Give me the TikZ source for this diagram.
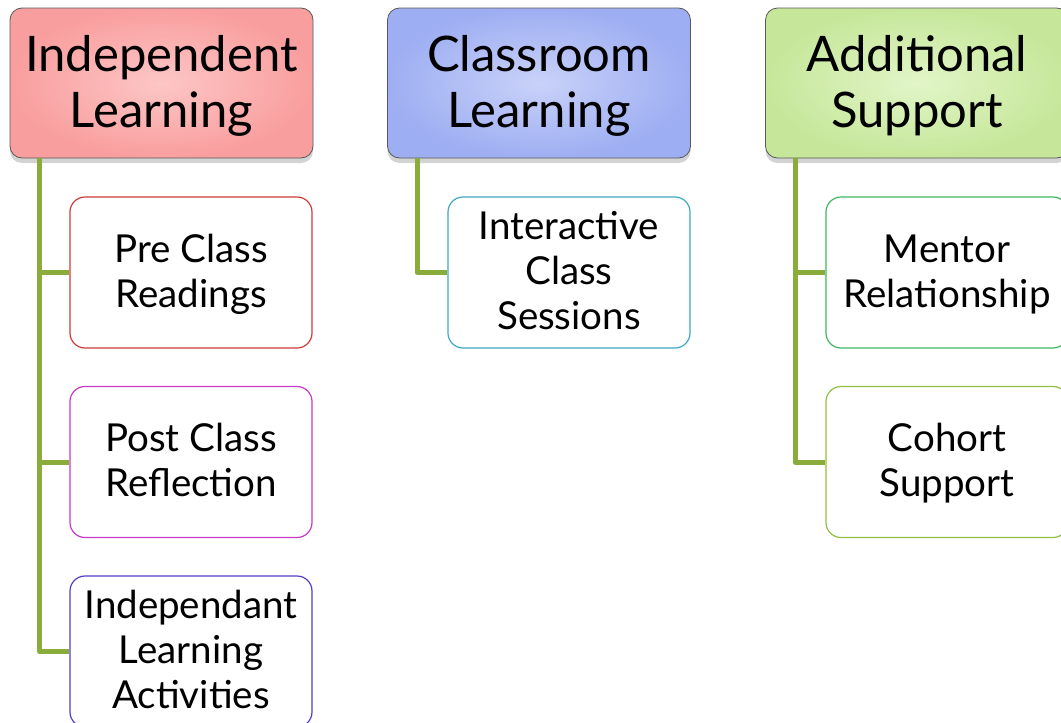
\documentclass[tikz,border=0pt]{standalone}
\usepackage{fontspec}
\setmainfont{Lato}
\usetikzlibrary{shadows}
\definecolor{trunk}{HTML}{8AAC3A}
\definecolor{redA}{HTML}{F99E9E}\definecolor{redB}{HTML}{FDC6C6}
\definecolor{bluA}{HTML}{9EAEF2}\definecolor{bluB}{HTML}{C9D2F9}
\definecolor{grnA}{HTML}{C6E79A}\definecolor{grnB}{HTML}{E2F5C8}
\definecolor{cRed}{HTML}{D03A3A}
\definecolor{cMag}{HTML}{C63CC6}
\definecolor{cPur}{HTML}{5040C8}
\definecolor{cCya}{HTML}{3EA8C2}
\definecolor{cGrn}{HTML}{3CB860}
\definecolor{cLim}{HTML}{92C042}
% centred lines, lowered a little inside the box while keeping its size
\newcommand{\boxtext}[2]{\raisebox{-#1}[\height][\depth]{\begin{tabular}{@{}c@{}}#2\end{tabular}}}
\tikzset{
  head/.style={rectangle, rounded corners=12pt, draw=black!65, line width=0.8pt,
    minimum width=303pt, minimum height=150pt, inner sep=0pt,
    font=\fontsize{49}{56}\selectfont, shading=radial,
    drop shadow={opacity=0.35, shadow xshift=0pt, shadow yshift=-5pt}},
  child/.style={rectangle, rounded corners=15pt, line width=1.2pt, fill=white,
    minimum width=242pt, minimum height=151pt, inner sep=0pt,
    font=\fontsize{38.5}{45}\selectfont},
  conn/.style={draw=trunk, line width=5pt, line join=round}
}
\begin{document}
\begin{tikzpicture}[x=1pt, y=-1pt]
\useasboundingbox (0,0) rectangle (1061,723);
% column headers
\node[head, inner color=redB, outer color=redA] (h1) at (161.5,83) {\boxtext{5pt}{Independent\\Learning}};
\node[head, inner color=bluB, outer color=bluA] (h2) at (539,83) {\boxtext{5pt}{Classroom\\Learning}};
\node[head, inner color=grnB, outer color=grnA] (h3) at (917,83) {\boxtext{5pt}{Additional\\Support}};
% items
\node[child, draw=cRed] (c1) at (191,272.5) {\boxtext{3pt}{Pre Class\\Readings}};
\node[child, draw=cMag] (c2) at (191,462) {\boxtext{3pt}{Post Class\\Reflection}};
\node[child, draw=cPur] (c3) at (191,651.5) {\boxtext{3pt}{Independant\\Learning\\Activities}};
\node[child, draw=cCya] (c4) at (569,272.5) {\boxtext{3pt}{Interactive\\Class\\Sessions}};
\node[child, draw=cGrn] (c5) at (947,272.5) {\boxtext{3pt}{Mentor\\Relationship}};
\node[child, draw=cLim] (c6) at (947,462) {\boxtext{3pt}{Cohort\\Support}};
% connectors
\draw[conn] ([xshift=30pt]h1.south west) |- (c3.west);
\draw[conn] ([xshift=30pt]h1.south west) |- (c1.west);
\draw[conn] ([xshift=30pt]h1.south west) |- (c2.west);
\draw[conn] ([xshift=30pt]h2.south west) |- (c4.west);
\draw[conn] ([xshift=30pt]h3.south west) |- (c6.west);
\draw[conn] ([xshift=30pt]h3.south west) |- (c5.west);
\end{tikzpicture}
\end{document}
